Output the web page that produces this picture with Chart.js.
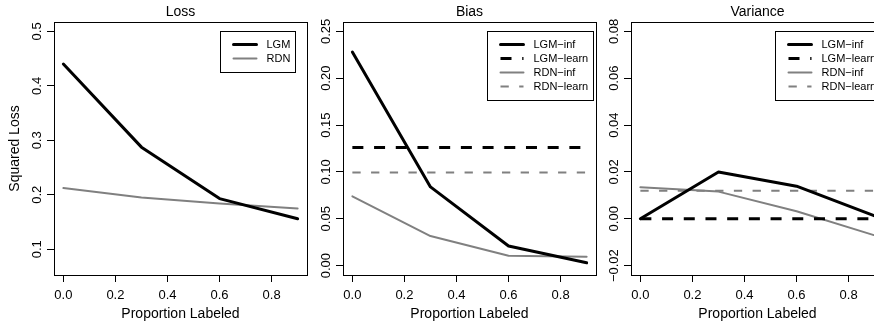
<!DOCTYPE html>
<html>
<head>
<meta charset="utf-8">
<script src="https://cdn.jsdelivr.net/npm/chart.js@4"></script>
<style>
  html, body { margin: 0; padding: 0; background: #fff; overflow: hidden; width: 874px; height: 325px; }
  canvas { position: absolute; top: 0; }
</style>
</head>
<body>
<canvas id="loss" width="310" height="325" style="left:0px"></canvas>
<canvas id="bias" width="310" height="325" style="left:289px"></canvas>
<canvas id="variance" width="310" height="325" style="left:577px"></canvas>
<script>
// values
const proportions = [0, 0.3, 0.6, 0.9];
const xTicks = [0, 0.2, 0.4, 0.6, 0.8];

const lossLGM = [0.440, 0.2875, 0.193, 0.156];
const lossRDN = [0.2125, 0.195, 0.184, 0.175];
const lossTicks = [0.1, 0.2, 0.3, 0.4, 0.5];

const biasLGMInf = [0.228, 0.084, 0.021, 0.003];
const biasLGMLearn = [0.126, 0.126, 0.126, 0.126];
const biasRDNInf = [0.074, 0.0316, 0.0106, 0.0096];
const biasRDNLearn = [0.0994, 0.0994, 0.0994, 0.0994];
const biasTicks = [0, 0.05, 0.10, 0.15, 0.20, 0.25];

const varLGMInf = [0, 0.020, 0.0139, 0.0012];
const varLGMLearn = [0, 0, 0, 0];
const varRDNInf = [0.01345, 0.0116, 0.0032, -0.0071];
const varRDNLearn = [0.012, 0.012, 0.012, 0.012];
const varTicks = [-0.02, 0, 0.02, 0.04, 0.06, 0.08];

const FONT = '"Liberation Sans", Arial, Helvetica, sans-serif';
const BLACK = '#000000';
const GRAY = '#808080';

// R style axis range: 4% extra on each side
function extend(lo, hi) {
    const r = hi - lo;
    return [lo - 0.04 * r, hi + 0.04 * r];
}

function series(label, values, color, width, dash) {
    return {
        label: label,
        data: proportions.map((x, i) => ({ x: x, y: values[i] })),
        borderColor: color,
        borderWidth: width,
        borderDash: dash,
        borderCapStyle: dash.length ? 'butt' : 'round',
        borderJoinStyle: 'round',
        pointRadius: 0,
        tension: 0,
        fill: false
    };
}

const rPlot = {
    id: 'rPlot',
    afterDraw(chart, args, opts) {
        const { ctx, chartArea: a, scales } = chart;
        ctx.save();
        // box
        ctx.strokeStyle = BLACK;
        ctx.lineWidth = 1;
        ctx.strokeRect(Math.round(a.left) + 0.5, Math.round(a.top) + 0.5,
            Math.round(a.right - a.left), Math.round(a.bottom - a.top));

        // rotated y tick labels
        const y = scales.y;
        ctx.font = '13px ' + FONT;
        ctx.fillStyle = BLACK;
        ctx.textAlign = 'center';
        ctx.textBaseline = 'middle';
        y.ticks.forEach(t => {
            ctx.save();
            ctx.translate(a.left - 17, y.getPixelForValue(t.value));
            ctx.rotate(-Math.PI / 2);
            ctx.fillText(t.value.toFixed(opts.decimals).replace('-', '\u2212'), 0, 0);
            ctx.restore();
        });

        // legend
        const ds = chart.data.datasets;
        const lx = Math.round(a.left + opts.legendLeft) + 0.5;
        const top = Math.round(a.top + 9) + 0.5;
        ctx.font = '11px ' + FONT;
        const tw = Math.max(...ds.map(d => ctx.measureText(d.label).width));
        const textX = lx + 46;
        const w = Math.round(textX + tw + 5 - lx);
        const h = 13 + 14 * (ds.length - 1) + 14;
        ctx.strokeRect(lx, top, w, h);
        ds.forEach((d, i) => {
            const ly = top + 13 + 14 * i;
            ctx.beginPath();
            ctx.setLineDash(d.borderDash);
            ctx.lineCap = d.borderCapStyle;
            ctx.lineWidth = d.borderWidth;
            ctx.strokeStyle = d.borderColor;
            ctx.moveTo(lx + 13, ly);
            ctx.lineTo(lx + 36, ly);
            ctx.stroke();
            ctx.setLineDash([]);
            ctx.fillStyle = BLACK;
            ctx.textAlign = 'left';
            ctx.fillText(d.label, textX, ly);
        });
        ctx.restore();
    }
};

function makePanel(id, title, datasets, yLim, yTicks, decimals, legendLeft, yTitle) {
    const xr = extend(0, 0.9);
    const yr = extend(yLim[0], yLim[1]);
    new Chart(document.getElementById(id), {
        type: 'line',
        data: { datasets: datasets },
        plugins: [rPlot],
        options: {
            responsive: false,
            animation: false,
            events: [],
            layout: { padding: { left: 0, right: 3, top: 0, bottom: 0 } },
            scales: {
                x: {
                    type: 'linear',
                    min: xr[0],
                    max: xr[1],
                    afterBuildTicks: s => { s.ticks = xTicks.map(v => ({ value: v })); },
                    afterFit: s => { s.height = 50; },
                    grid: { drawOnChartArea: false, tickLength: 7, color: BLACK },
                    border: { display: false },
                    ticks: {
                        color: BLACK,
                        font: { size: 13, family: FONT },
                        padding: 6,
                        maxRotation: 0,
                        autoSkip: false,
                        callback: v => v.toFixed(1)
                    },
                    title: {
                        display: true,
                        text: 'Proportion Labeled',
                        color: BLACK,
                        font: { size: 14, family: FONT },
                        padding: { top: 0, bottom: 2 }
                    }
                },
                y: {
                    type: 'linear',
                    min: yr[0],
                    max: yr[1],
                    afterBuildTicks: s => { s.ticks = yTicks.map(v => ({ value: v })); },
                    afterFit: s => { s.width = 54; },
                    grid: { drawOnChartArea: false, tickLength: 7, color: BLACK },
                    border: { display: false },
                    ticks: { color: 'rgba(0,0,0,0)', font: { size: 13, family: FONT } },
                    title: {
                        display: !!yTitle,
                        text: yTitle || '',
                        color: BLACK,
                        font: { size: 14, family: FONT },
                        padding: { top: 6.6, bottom: 0 }
                    }
                }
            },
            plugins: {
                legend: { display: false },
                tooltip: { enabled: false },
                title: {
                    display: true,
                    text: title,
                    color: BLACK,
                    fullSize: false,
                    font: { size: 14, weight: 'normal', family: FONT },
                    padding: { top: 3.6, bottom: 1.6 }
                },
                rPlot: { decimals: decimals, legendLeft: legendLeft }
            }
        }
    });
}

makePanel('loss', 'Loss', [
    series('LGM', lossLGM, BLACK, 3, []),
    series('RDN', lossRDN, GRAY, 2, [])
], [0.07, 0.5], lossTicks, 1, 166, 'Squared Loss');

makePanel('bias', 'Bias', [
    series('LGM\u2212inf', biasLGMInf, BLACK, 3, []),
    series('LGM\u2212learn', biasLGMLearn, BLACK, 3, [11, 10.7]),
    series('RDN\u2212inf', biasRDNInf, GRAY, 2, []),
    series('RDN\u2212learn', biasRDNLearn, GRAY, 2, [8.3, 10.4])
], [0, 0.25], biasTicks, 2, 144);

makePanel('variance', 'Variance', [
    series('LGM\u2212inf', varLGMInf, BLACK, 3, []),
    series('LGM\u2212learn', varLGMLearn, BLACK, 3, [11, 10.7]),
    series('RDN\u2212inf', varRDNInf, GRAY, 2, []),
    series('RDN\u2212learn', varRDNLearn, GRAY, 2, [8.3, 10.4])
], [-0.02, 0.08], varTicks, 2, 144);
</script>
</body>
</html>
